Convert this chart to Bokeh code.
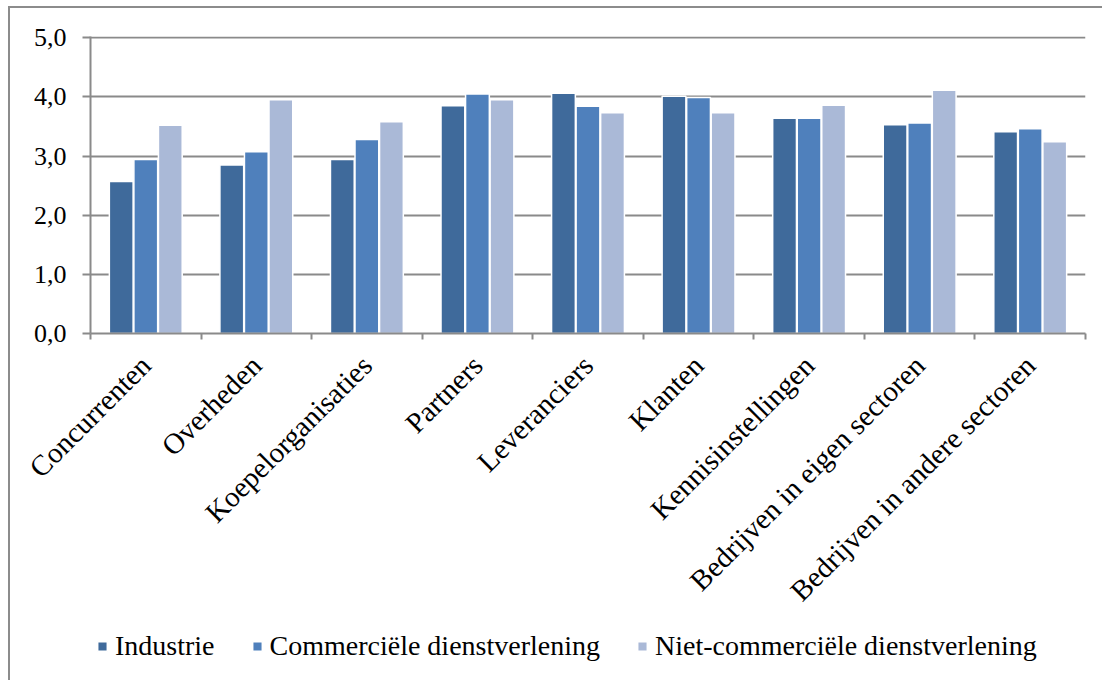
import math
from bokeh.plotting import figure
from bokeh.layouts import column
from bokeh.models import (Range1d, LinearAxis, FixedTicker, Legend, LegendItem,
                          ColumnDataSource, CustomJSTickFormatter)
from bokeh.transform import dodge
from bokeh.embed import file_html
from bokeh.resources import INLINE

# ---- data -------------------------------------------------------------
categories = ["Concurrenten", "Overheden", "Koepelorganisaties", "Partners",
              "Leveranciers", "Klanten", "Kennisinstellingen",
              "Bedrijven in eigen sectoren", "Bedrijven in andere sectoren"]
industrie = [2.57, 2.85, 2.94, 3.85, 4.06, 4.01, 3.64, 3.53, 3.41]
commercieel = [2.94, 3.07, 3.28, 4.05, 3.84, 3.99, 3.64, 3.56, 3.46]
niet_commercieel = [3.52, 3.95, 3.58, 3.95, 3.73, 3.73, 3.86, 4.11, 3.24]
series_names = ["Industrie", "Commerciële dienstverlening",
                "Niet-commerciële dienstverlening"]
y_ticks = [0, 1, 2, 3, 4, 5]
y_tick_labels = ["0,0", "1,0", "2,0", "3,0", "4,0", "5,0"]

# ---- styles -----------------------------------------------------------
colors = ["#3F6A9B", "#4F80BC", "#AAB9D7"]
offsets = [-0.222, 0.0, 0.222]
FONT = "Liberation Serif"
GRAY = "#8a8a8a"

n = len(categories)
centers = [i + 0.5 for i in range(n)]
source = ColumnDataSource(dict(xc=centers, cat=categories, ind=industrie,
                               com=commercieel, niet=niet_commercieel))

MAIN_H = 622
p = figure(width=1094, height=MAIN_H, x_range=Range1d(0, n),
           y_range=Range1d(0, 5.02), output_backend="svg",
           toolbar_location=None, x_axis_location=None, y_axis_location=None,
           min_border_left=80, min_border_right=19, min_border_top=28,
           min_border_bottom=MAIN_H - 28 - 297)
p.outline_line_color = None
p.background_fill_color = "white"
p.border_fill_color = "white"
p.xgrid.visible = False

for col, off, c in zip(["ind", "com", "niet"], offsets, colors):
    p.vbar(x=dodge("xc", off), top=col, width=0.215,
           source=source, fill_color=c, line_color="white", line_width=1.5)

p.ygrid.ticker = FixedTicker(ticks=y_ticks)
p.ygrid.grid_line_color = GRAY
p.ygrid.grid_line_width = 2

# y axis
yaxis = LinearAxis(ticker=FixedTicker(ticks=y_ticks),
                   major_label_overrides={t: l for t, l in zip(y_ticks, y_tick_labels)})
yaxis.axis_line_color = GRAY
yaxis.axis_line_width = 2
yaxis.major_tick_line_color = GRAY
yaxis.major_tick_line_width = 2
yaxis.major_tick_out = 8
yaxis.major_tick_in = 0
yaxis.minor_tick_line_color = None
yaxis.major_label_standoff = 16
yaxis.major_label_text_font = FONT
yaxis.major_label_text_font_size = "26px"
yaxis.major_label_text_color = "black"
p.add_layout(yaxis, "left")

# x tick axis (ticks at category boundaries)
tick_axis = LinearAxis(ticker=FixedTicker(ticks=list(range(n + 1))),
                       major_label_overrides={i: "" for i in range(n + 1)})
tick_axis.axis_line_color = GRAY
tick_axis.axis_line_width = 2
tick_axis.major_tick_line_color = GRAY
tick_axis.major_tick_line_width = 2
tick_axis.major_tick_out = 6
tick_axis.major_tick_in = 0
tick_axis.minor_tick_line_color = None
tick_axis.major_label_text_font_size = "0px"
tick_axis.major_label_standoff = 0
p.add_layout(tick_axis, "below")

# category label axis (labels at category centres)
cat_axis = LinearAxis(ticker=FixedTicker(ticks=centers),
                      formatter=CustomJSTickFormatter(
                          args=dict(labels=categories),
                          code="return labels[Math.floor(tick)];"))
cat_axis.axis_line_color = None
cat_axis.major_tick_line_color = None
cat_axis.minor_tick_line_color = None
cat_axis.major_label_orientation = math.pi / 4
cat_axis.major_label_standoff = 15
cat_axis.major_label_text_font = FONT
cat_axis.major_label_text_font_size = "29px"
cat_axis.major_label_text_color = "black"
p.add_layout(cat_axis, "below")

# ---- legend strip (same series, view placed away from the bars) -------
LEG_H = 682 - 8 - MAIN_H
lf = figure(width=1094, height=LEG_H, x_range=Range1d(0, n),
            y_range=Range1d(10, 11), output_backend="svg",
            toolbar_location=None, x_axis_location=None, y_axis_location=None,
            min_border=0)
lf.outline_line_color = None
lf.border_fill_color = "white"
lf.xgrid.visible = False
lf.ygrid.visible = False
renderers = []
for col, off, c in zip(["ind", "com", "niet"], offsets, colors):
    r = lf.vbar(x=dodge("xc", off), top=col, width=0.215,
                source=source, fill_color=c, line_color="white", line_width=1.5)
    renderers.append(r)

legend = Legend(items=[LegendItem(label=nm, renderers=[r])
                       for nm, r in zip(series_names, renderers)],
                orientation="horizontal", location=(6, 20))
legend.glyph_width = 12
legend.glyph_height = 12
legend.label_standoff = 7
legend.spacing = 36
legend.padding = 0
legend.margin = 0
legend.label_height = 28
legend.label_text_font = FONT
legend.label_text_font_size = "28px"
legend.label_text_color = "black"
legend.background_fill_alpha = 0
legend.border_line_color = None
lf.add_layout(legend)

layout = column(p, lf, spacing=0)
layout.margin = (8, 0, 0, 10)
layout.styles = {"box-shadow": "-2px -2px 0 0 #8c8c8c"}
open("out.html", "w").write(file_html(layout, INLINE))
